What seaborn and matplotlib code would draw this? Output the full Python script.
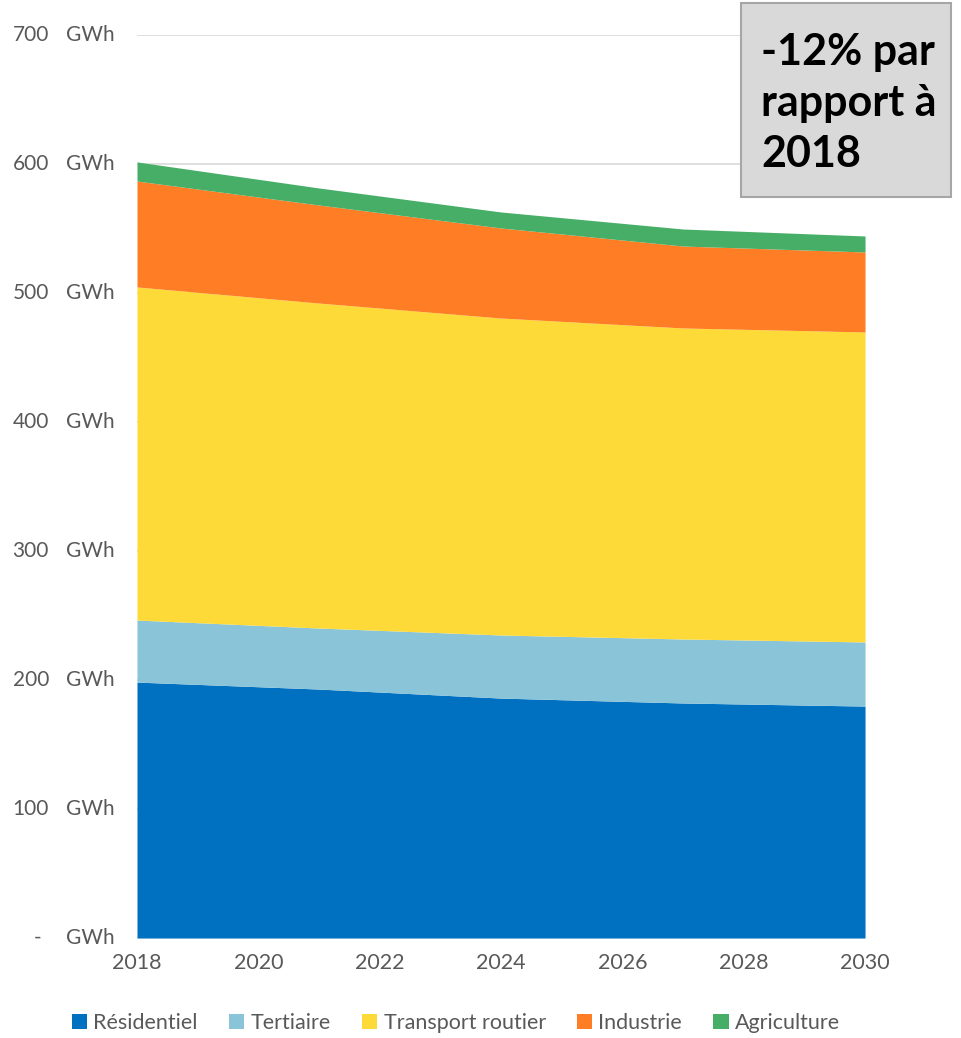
import matplotlib
matplotlib.use("Agg")
import matplotlib.pyplot as plt
import seaborn as sns
import numpy as np

# Consommation d'énergie par secteur (GWh)
years = [2018, 2021, 2024, 2027, 2030]
residentiel = [198.4, 193.0, 186.0, 182.2, 179.8]
tertiaire = [48.1, 47.3, 48.9, 49.6, 49.7]
transport = [258.2, 251.9, 245.7, 241.1, 240.3]
industrie = [82.1, 76.0, 69.8, 63.5, 62.0]
agriculture = [14.8, 13.2, 12.4, 13.2, 12.4]

labels = ["Résidentiel", "Tertiaire", "Transport routier", "Industrie", "Agriculture"]
colors = ["#0070C0", "#8AC4D8", "#FEDA38", "#FF7D25", "#46AE66"]

xticks = [2018, 2020, 2022, 2024, 2026, 2028, 2030]
yticks = [0, 100, 200, 300, 400, 500, 600, 700]
ytick_numbers = ["-", "100", "200", "300", "400", "500", "600", "700"]

annotation = "-12% par\nrapport à\n2018"

sns.set_theme(style="white")
plt.rcParams["font.family"] = ["Lato", "DejaVu Sans"]

fig = plt.figure(figsize=(9.62, 10.38), dpi=100)
ax = fig.add_axes([0.1424, 0.0963, 0.7568, 0.8700])

ax.stackplot(years, residentiel, tertiaire, transport, industrie, agriculture,
             labels=labels, colors=colors, linewidth=0, zorder=2)

ax.set_xlim(2018, 2030)
ax.set_ylim(0, 700)
ax.set_yticks(yticks)
ax.yaxis.grid(True, color="#D9D9D9", linewidth=1.2, zorder=0)
ax.set_axisbelow(True)
ax.set_yticklabels([])
ax.tick_params(axis="y", length=0)
ax.set_xticks(xticks)
ax.set_xticklabels([str(x) for x in xticks], fontsize=15.5, color="#595959")
ax.tick_params(axis="x", length=0, pad=11)
sns.despine(ax=ax, left=True, bottom=True)

# Libellés de l'axe Y façon comptabilité : valeur puis unité
trans = matplotlib.transforms.blended_transform_factory(fig.transFigure, ax.transData)
for val, num in zip(yticks, ytick_numbers):
    xr = 41 / 962 if num == "-" else 49 / 962
    ax.text(xr, val, num, transform=trans, ha="right", va="center",
            fontsize=15, color="#595959")
    ax.text(66 / 962, val, "GWh", transform=trans, ha="left", va="center",
            fontsize=15, color="#595959")

# Encadré de variation
fig.text(761 / 962, 1 - 103 / 1038, annotation, ha="left", va="center",
         fontsize=31, fontweight="bold", color="black", linespacing=1.33,
         zorder=5)
box = matplotlib.patches.Rectangle((741 / 962, 1 - 197 / 1038), 210 / 962, 194 / 1038,
                                   transform=fig.transFigure, facecolor="#D9D9D9",
                                   edgecolor="#A6A6A6", linewidth=1.5, zorder=4)
fig.patches.append(box)

leg = fig.legend(loc="center", bbox_to_anchor=(0.474, 1 - 1023 / 1038), ncol=5,
                 frameon=False, fontsize=15.5, handlelength=0.7, handleheight=0.7,
                 handletextpad=0.3, columnspacing=1.45)
for t in leg.get_texts():
    t.set_color("#595959")

fig.savefig("out.png", dpi=100)
